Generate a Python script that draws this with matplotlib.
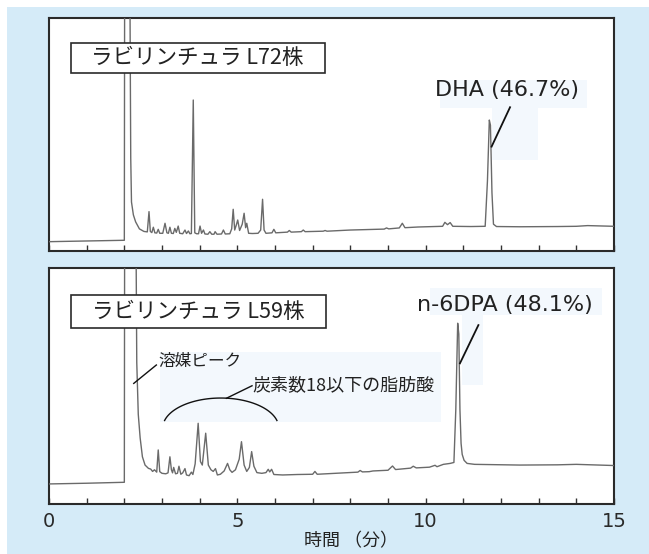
import matplotlib
matplotlib.use('Agg')
import matplotlib.pyplot as plt
from matplotlib.patches import Rectangle
import numpy as np

plt.rcParams['font.family'] = ['Noto Sans CJK JP', 'DejaVu Sans']
LATIN = ['DejaVu Sans', 'Noto Sans CJK JP']

# ---------------- data ----------------
# retention time (min) / detector signal (% of panel height)
top_time = [0.0, 1.0, 2.0, 2.01, 2.14, 2.17, 2.19, 2.24, 2.30, 2.40, 2.52, 2.61,
            2.655, 2.69, 2.73, 2.77, 2.81, 2.86, 2.90, 2.94, 3.02, 3.08, 3.13,
            3.17, 3.21, 3.25, 3.30, 3.34, 3.38, 3.43, 3.47, 3.55, 3.61, 3.65,
            3.70, 3.74, 3.78, 3.83, 3.87, 3.92, 3.97, 4.01, 4.05, 4.10, 4.14,
            4.22, 4.27, 4.32, 4.38, 4.41, 4.46, 4.58, 4.63, 4.68, 4.80, 4.85,
            4.89, 4.93, 4.97, 5.01, 5.06, 5.13, 5.18, 5.22, 5.25, 5.30, 5.40,
            5.55, 5.62, 5.67, 5.71, 5.76, 5.92, 5.97, 6.02, 6.33, 6.38, 6.43,
            6.70, 6.75, 6.80, 7.28, 7.33, 7.38, 8.0, 8.90, 8.96, 9.02, 9.30,
            9.38, 9.45, 9.8, 10.45, 10.51, 10.58, 10.65, 10.72, 11.2, 11.58,
            11.64, 11.69, 11.72, 11.76, 11.80, 11.88, 12.5, 13.5, 14.0, 14.3,
            15.0]
top_signal = [4.0, 4.3, 4.6, 140, 140, 40, 21, 15.5, 12.5, 9.5, 8.4, 8.2,
              16.9, 8.4, 7.9, 10.2, 7.8, 7.7, 9.3, 7.6, 7.6, 11.9, 7.8,
              7.6, 10.2, 7.6, 7.5, 9.7, 8.0, 10.7, 7.6, 7.4, 9.0, 7.5,
              8.6, 7.4, 7.5, 64.8, 7.8, 7.4, 7.4, 10.7, 7.6, 9.0, 7.3,
              7.2, 8.3, 7.2, 7.2, 8.3, 7.2, 7.3, 9.0, 7.3, 7.4, 9.5,
              17.9, 9.0, 11.0, 13.3, 8.8, 11.5, 16.2, 10.0, 11.9, 7.6, 7.5,
              7.6, 9.0, 22.2, 9.0, 7.6, 7.8, 9.3, 7.8, 8.1, 8.8, 8.1,
              8.3, 9.0, 8.3, 8.5, 8.8, 8.5, 9.0, 9.4, 9.9, 9.5, 9.9,
              11.9, 10.0, 10.3, 10.6, 12.3, 11.3, 12.2, 10.6, 10.5, 10.6,
              30, 56.2, 54, 25, 11.5, 10.5, 10.4, 10.5, 10.6, 10.9,
              10.6]

bot_time = [0.0, 1.0, 2.0, 2.01, 2.30, 2.33, 2.37, 2.42, 2.48, 2.55, 2.64,
            2.70, 2.75, 2.80, 2.86, 2.90, 2.94, 3.00, 3.10, 3.16, 3.21, 3.25,
            3.28, 3.31, 3.36, 3.41, 3.45, 3.50, 3.55, 3.61, 3.65, 3.72, 3.78,
            3.82, 3.88, 3.96, 4.02, 4.07, 4.16, 4.23, 4.30, 4.36, 4.42, 4.47,
            4.55, 4.65, 4.74, 4.80, 4.86, 4.95, 5.05, 5.11, 5.18, 5.25, 5.32,
            5.38, 5.44, 5.52, 5.65, 5.76, 5.82, 5.86, 5.91, 5.97, 6.2, 6.6,
            7.0, 7.06, 7.12, 7.6, 8.2, 8.26, 8.32, 8.5, 8.6, 9.0, 9.12, 9.2,
            9.6, 9.67, 9.75, 10.1, 10.25, 10.3, 10.47, 10.65, 10.75, 10.80,
            10.85, 10.88, 10.91, 10.94, 10.97, 11.02, 11.1, 11.3, 12.5, 13.5,
            14.0, 15.0]
bot_signal = [8.5, 8.8, 9.2, 140, 140, 60, 38, 28, 20, 16.5, 15.1,
              14.8, 13.8, 14.5, 13.5, 22.9, 13.7, 13.0, 12.8, 13.2, 20.0, 14.5,
              13.2, 15.5, 12.8, 13.0, 16.0, 12.6, 13.2, 15.0, 12.3, 12.0, 13.5,
              12.5, 17.0, 34.2, 18.0, 16.5, 30.0, 16.5, 14.5, 13.8, 15.0, 12.3,
              12.6, 14.0, 17.2, 14.5, 13.4, 14.5, 19.0, 26.4, 16.5, 13.8, 15.5,
              22.2, 16.0, 13.3, 13.0, 13.3, 14.7, 13.6, 14.7, 12.5, 12.3, 12.5,
              12.6, 13.8, 12.6, 13.0, 13.5, 14.2, 13.6, 13.7, 14.0, 14.3, 16.1, 14.6,
              15.2, 16.0, 15.3, 15.6, 16.4, 15.8, 16.8, 17.2, 17.6, 40,
              76.6, 72, 40, 25.7, 21.0, 18.5, 17.2, 16.8, 16.5, 16.6,
              16.8, 16.3]

tick_positions = list(range(16))
tick_label_values = [0, 5, 10, 15]
strain_labels = ['ラビリンチュラ L72株', 'ラビリンチュラ L59株']
peak_labels = ['DHA (46.7%)', 'n-6DPA (48.1%)']
solvent_label = '溶媒ピーク'
fatty_label = '炭素数18以下の脂肪酸'
x_label = '時間 （分）'

# ---------------- figure ----------------
W, H = 649, 554
fig = plt.figure(figsize=(W / 100, H / 100), dpi=100)
fig.patch.set_facecolor('white')
fig.add_artist(Rectangle((7 / W, 0), 1, (H - 7) / H, transform=fig.transFigure,
                         facecolor='#d5ebf8', edgecolor='none', zorder=0))

ax1 = fig.add_axes([49 / W, 1 - 251 / H, 565 / W, 233 / H])
ax2 = fig.add_axes([49 / W, 1 - 504 / H, 565 / W, 236 / H])

trace_color = '#6a6a6a'
faint = '#f3f8fd'
for ax, t, s in [(ax1, top_time, top_signal), (ax2, bot_time, bot_signal)]:
    ax.set_facecolor('white')
    ax.plot(t, s, color=trace_color, lw=1.0, zorder=3, solid_joinstyle='round')
    ax.set_xlim(0, 15)
    ax.set_ylim(0, 100)
    ax.set_yticks([])
    ax.set_xticks(tick_positions)
    ax.tick_params(axis='x', direction='in', length=4, width=1, color='#333333',
                   labelsize=14, pad=6, labelcolor='#2a2a2a')
    for sp in ax.spines.values():
        sp.set_color('#2a2a2a')
        sp.set_linewidth(1.5)

ax1.set_xticklabels(['' for _ in tick_positions])
ax2.set_xticklabels([str(v) if v in tick_label_values else '' for v in tick_positions])
for lab in ax2.get_xticklabels():
    lab.set_family(LATIN)

# faint background patches behind the labels
ax1.add_patch(Rectangle((11.75, 39.1), 1.24, 22.1, facecolor=faint, edgecolor='none', zorder=1))
ax1.add_patch(Rectangle((10.38, 61.4), 3.89, 12.0, facecolor=faint, edgecolor='none', zorder=1))
ax2.add_patch(Rectangle((2.955, 34.9), 7.455, 29.6, facecolor=faint, edgecolor='none', zorder=1))
ax2.add_patch(Rectangle((10.11, 80.1), 4.56, 11.4, facecolor=faint, edgecolor='none', zorder=1))
ax2.add_patch(Rectangle((10.96, 50.4), 0.57, 29.7, facecolor=faint, edgecolor='none', zorder=1))

# strain boxes
ax1.add_patch(Rectangle((0.573, 76.5), 6.743, 12.6, facecolor='white', edgecolor='#2a2a2a',
                        lw=1.2, zorder=5))
ax1.text(3.94, 82.8, strain_labels[0], ha='center', va='center', fontsize=15.5,
         color='#222222', zorder=6)
ax2.add_patch(Rectangle((0.573, 74.4), 6.794, 14.2, facecolor='white', edgecolor='#2a2a2a',
                        lw=1.2, zorder=5))
ax2.text(3.97, 81.5, strain_labels[1], ha='center', va='center', fontsize=15.5,
         color='#222222', zorder=6)

# peak labels
ax1.text(12.15, 69.3, peak_labels[0], ha='center', va='center', fontsize=16,
         family=LATIN, color='#222222', zorder=6)
ax1.plot([12.24, 11.75], [61.7, 44.8], color='#111111', lw=1.3, zorder=6)
ax2.text(12.11, 84.5, peak_labels[1], ha='center', va='center', fontsize=16,
         family=LATIN, color='#222222', zorder=6)
ax2.plot([11.40, 10.91], [75.8, 59.6], color='#111111', lw=1.3, zorder=6)

# solvent peak annotation
ax2.text(2.90, 60.6, solvent_label, ha='left', va='center', fontsize=12,
         color='#222222', zorder=6)
ax2.plot([2.85, 2.25], [58.9, 51.1], color='#111111', lw=1.0, zorder=6)

# fatty acid arc annotation
theta = np.linspace(np.deg2rad(14.5), np.deg2rad(165.5), 80)
ax2.plot(4.56 + 1.54 * np.cos(theta), 32.2 + 12.7 * np.sin(theta),
         color='#111111', lw=1.0, zorder=6)
ax2.plot([4.71, 5.39], [44.8, 50.1], color='#111111', lw=1.0, zorder=6)
ax2.text(5.41, 50.4, fatty_label, ha='left', va='center', fontsize=13,
         color='#222222', zorder=6)

fig.text(351 / W, 1 - 541.5 / H, x_label, ha='center', va='center', fontsize=13,
         color='#222222')

fig.savefig('out.png', dpi=100)
